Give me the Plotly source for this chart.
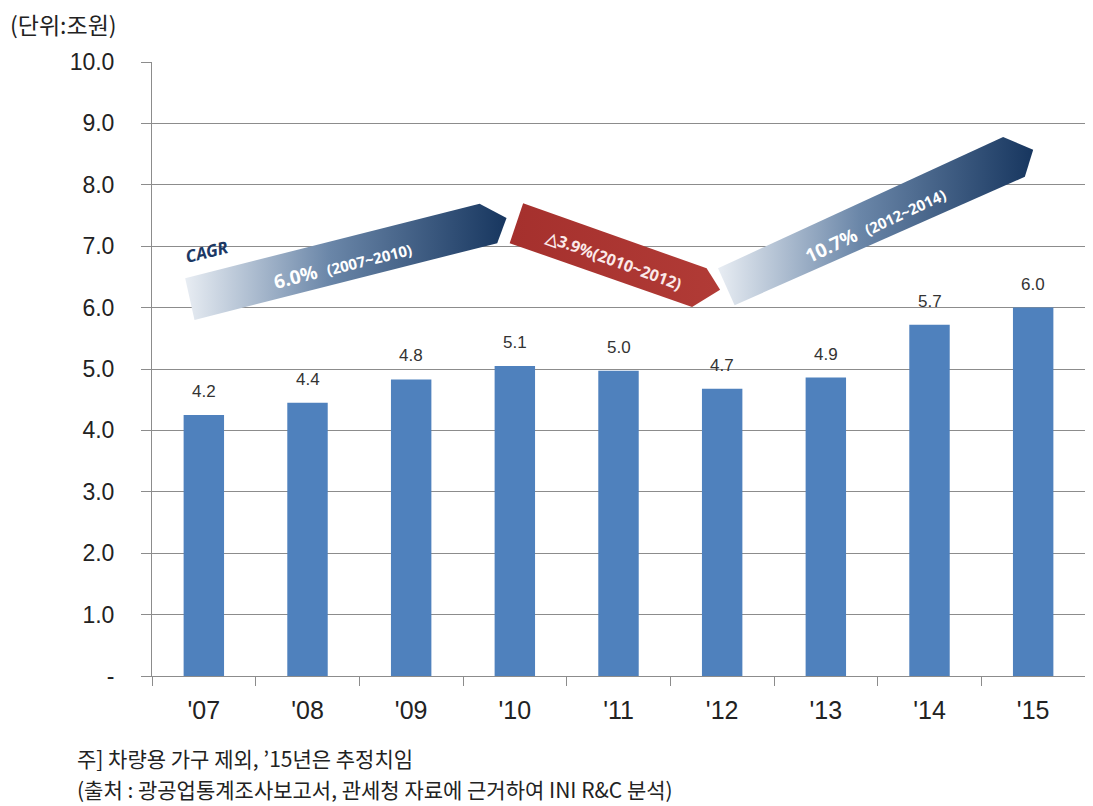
import plotly.graph_objects as go

# ---- data ----
years = ["'07", "'08", "'09", "'10", "'11", "'12", "'13", "'14", "'15"]
values = [4.25, 4.45, 4.83, 5.05, 4.97, 4.68, 4.86, 5.72, 6.0]
value_labels = ["4.2", "4.4", "4.8", "5.1", "5.0", "4.7", "4.9", "5.7", "6.0"]
y_ticks = [0, 1, 2, 3, 4, 5, 6, 7, 8, 9, 10]
y_tick_labels = ["-", "1.0", "2.0", "3.0", "4.0", "5.0", "6.0", "7.0", "8.0", "9.0", "10.0"]

# CAGR arrows (decorations, in axis units: x = category index, y = value)
arrow1 = dict(x=[-0.18, 2.66, 2.92, 2.83, -0.09], y=[6.48, 7.69, 7.46, 7.05, 5.80])
arrow2 = dict(x=[3.08, 4.85, 4.98, 4.71, 2.95], y=[7.70, 6.64, 6.29, 6.01, 7.05])
arrow3 = dict(x=[4.96, 7.71, 8.00, 7.92, 5.12], y=[6.64, 8.78, 8.57, 8.13, 6.04])

FONT = "Arial, 'Liberation Sans', 'Noto Sans CJK KR', sans-serif"
KFONT = "'Noto Sans CJK KR', Arial, sans-serif"
AFONT = "'Noto Sans', 'Open Sans', Arial, sans-serif"

x_idx = list(range(len(years)))

# page has an 8px body margin; plot area should be at x 152..1085, y 62..676
L, T, R, B = 144, 54, 16, 138
PW, PH = 1093 - L - R, 806 - T - B

fig = go.Figure()
fig.add_trace(go.Bar(
    x=x_idx, y=values, marker=dict(color="#4f81bd", line=dict(width=0)),
    width=0.39, hoverinfo="skip", showlegend=False,
))

blue_grad = dict(type="horizontal", colorscale=[[0, "#e8edf3"], [0.45, "#6a86a8"], [1, "#17365f"]])
red_grad = dict(type="horizontal", colorscale=[[0, "#a5302d"], [1, "#b13b36"]])
for arr, grad in [(arrow1, blue_grad), (arrow2, red_grad), (arrow3, blue_grad)]:
    fig.add_trace(go.Scatter(
        x=arr["x"] + [arr["x"][0]], y=arr["y"] + [arr["y"][0]],
        mode="lines", fill="toself", fillgradient=grad,
        line=dict(width=0), hoverinfo="skip", showlegend=False,
    ))

annotations = []
for xi, v, lab in zip(x_idx, values, value_labels):
    annotations.append(dict(
        x=xi, y=v, text=lab, showarrow=False, yanchor="bottom", yshift=12,
        font=dict(family=FONT, size=17, color="#333333"),
    ))

def px_x(px):
    return (px - 152) / PW

def px_y(py):
    return (676 - py) / PH

annotations += [
    dict(x=0.03, y=6.92, text="<b><i>CAGR</i></b>", showarrow=False, textangle=-14,
         font=dict(family=AFONT, size=17, color="#1c3864")),
    dict(x=1.34, y=6.69, text="<b>6.0%</b>  <span style='font-size:15px'><b>(2007~2010)</b></span>",
         showarrow=False, textangle=-14, font=dict(family=AFONT, size=19, color="#ffffff")),
    dict(x=3.95, y=6.78, text="<b>△3.9%(2010~2012)</b>", showarrow=False, textangle=20,
         font=dict(family=AFONT, size=16, color="#fbe9e9")),
    dict(x=6.47, y=7.35, text="<b>10.7%</b>  <span style='font-size:15px'><b>(2012~2014)</b></span>",
         showarrow=False, textangle=-25, font=dict(family=AFONT, size=19, color="#ffffff")),
    dict(xref="paper", yref="paper", x=px_x(8), y=px_y(24), xanchor="left", yanchor="middle",
         text="(단위:조원)", showarrow=False, font=dict(family=KFONT, size=23, color="#222222")),
    dict(xref="paper", yref="paper", x=px_x(75), y=px_y(758), xanchor="left", yanchor="middle",
         text="주] 차량용 가구 제외, ’15년은 추정치임", showarrow=False,
         font=dict(family=KFONT, size=21, color="#222222")),
    dict(xref="paper", yref="paper", x=px_x(75), y=px_y(789), xanchor="left", yanchor="middle",
         text="(출처 : 광공업통계조사보고서, 관세청 자료에 근거하여 INI R&C 분석)", showarrow=False,
         font=dict(family=KFONT, size=21, color="#222222")),
]

fig.update_layout(
    width=1093, height=806,
    margin=dict(l=L, r=R, t=T, b=B, autoexpand=False),
    paper_bgcolor="white", plot_bgcolor="white",
    annotations=annotations,
    xaxis=dict(
        range=[-0.5, 8.5], tickmode="array", tickvals=x_idx, ticktext=years,
        ticks="", showgrid=False, showline=True, linecolor="#8c8c8c", linewidth=1,
        tickfont=dict(family=FONT, size=25, color="#222222"), ticklabelstandoff=12,
        minor=dict(tickmode="linear", tick0=-0.5, dtick=1, ticks="outside", ticklen=9,
                   tickcolor="#8c8c8c", showgrid=False),
        zeroline=False, fixedrange=True,
    ),
    yaxis=dict(
        range=[0, 10], tickmode="array", tickvals=y_ticks, ticktext=y_tick_labels,
        ticks="outside", ticklen=10, tickcolor="#8c8c8c",
        showgrid=True, gridcolor="#8c8c8c", gridwidth=1,
        showline=True, linecolor="#8c8c8c", linewidth=1, zeroline=False,
        tickfont=dict(family=FONT, size=23, color="#222222"), ticklabelstandoff=22,
        fixedrange=True,
    ),
)

fig.write_html("out.html")
